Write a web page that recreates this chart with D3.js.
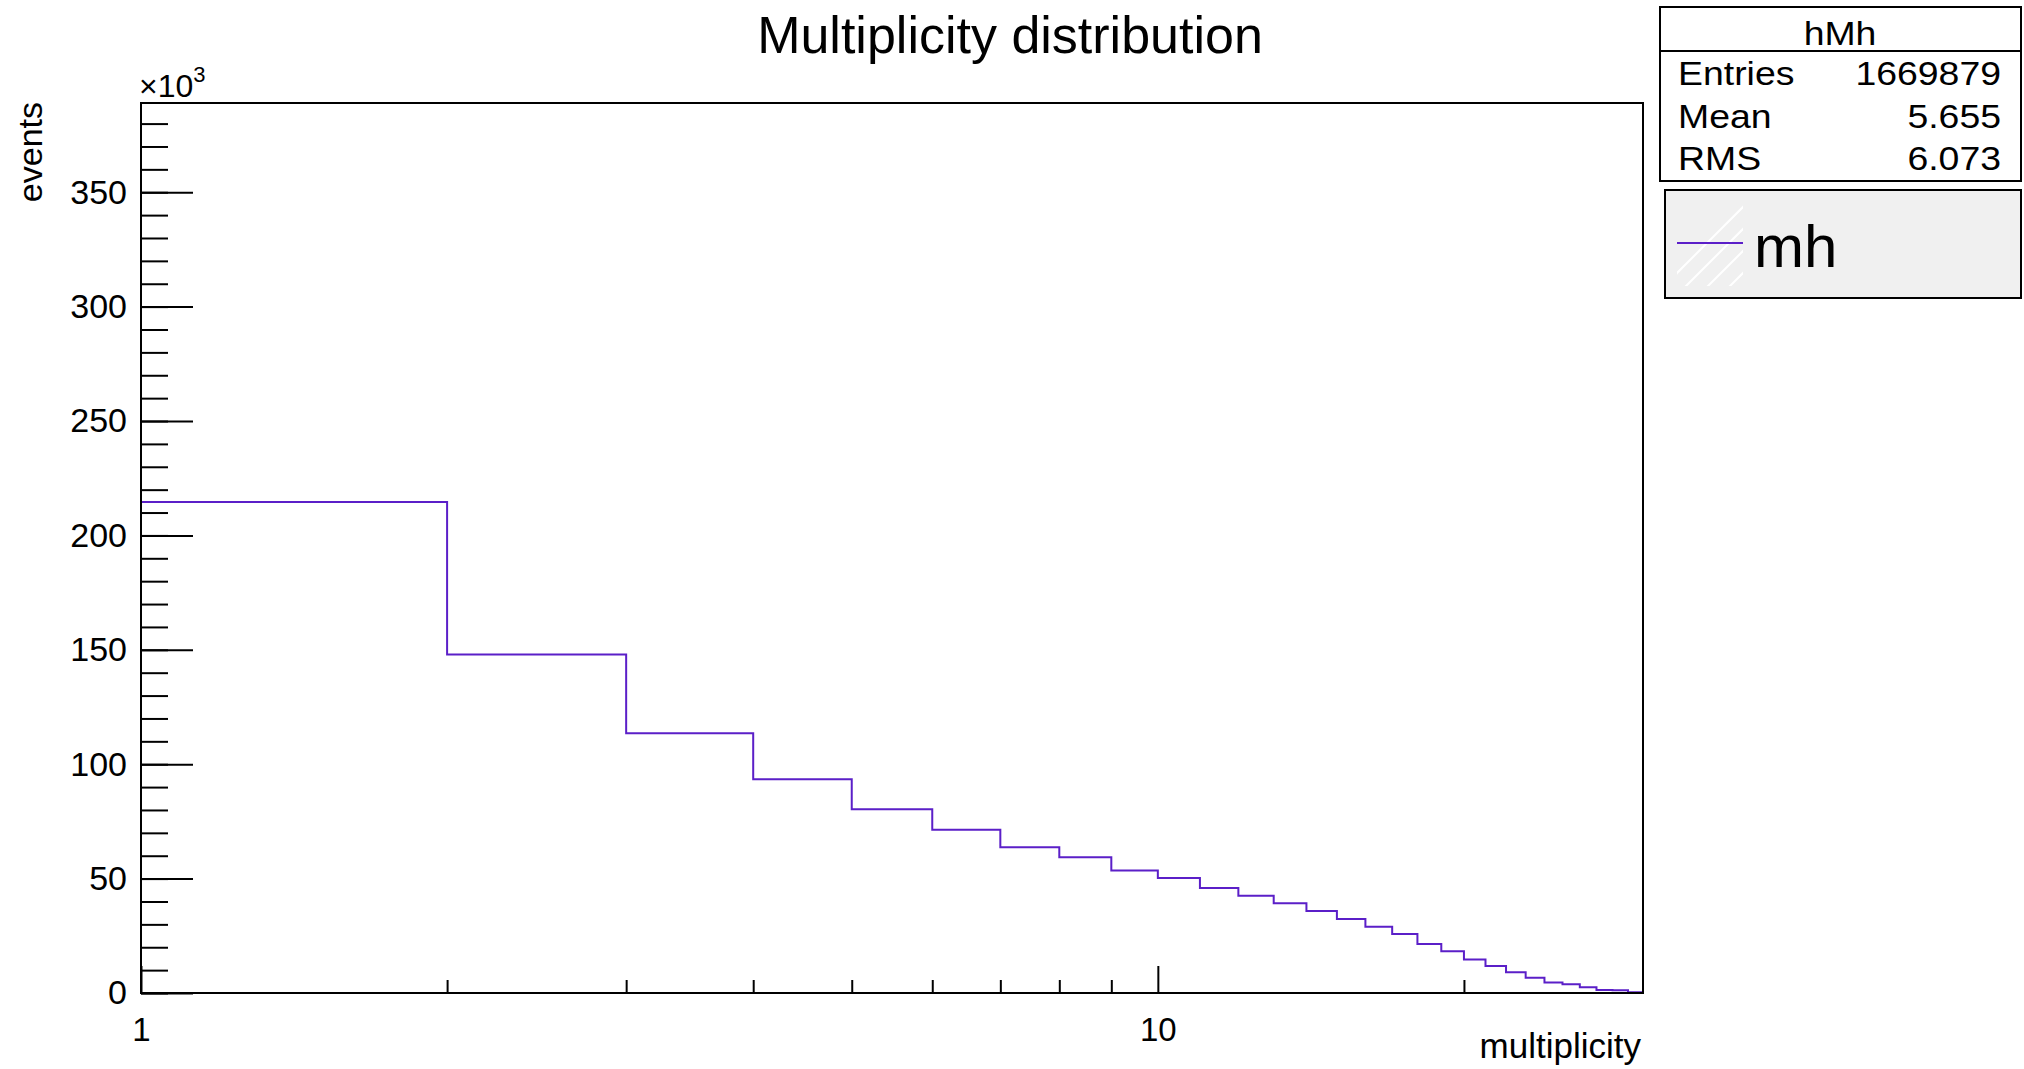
<!DOCTYPE html>
<html>
<head>
<meta charset="utf-8">
<script src="https://cdn.jsdelivr.net/npm/d3@7"></script>
<style>
  html, body { margin: 0; padding: 0; background: #fff; }
  svg text { font-family: "Liberation Sans", Arial, Helvetica, sans-serif; fill: #000; }
</style>
</head>
<body>
<svg id="chart" width="2024" height="1069"></svg>
<script>
// histogram hMh: bin low edges (multiplicity) and contents (x10^3 events)
const binLow   = [1, 2, 3, 4, 5, 6, 7, 8, 9, 10, 11, 12, 13, 14, 15, 16, 17, 18, 19, 20, 21, 22, 23, 24, 25, 26, 27, 28, 29];
const binValue = [214.6, 148.0, 113.5, 93.4, 80.3, 71.4, 63.7, 59.3, 53.5, 50.3, 45.9, 42.5, 39.2, 35.8, 32.3, 29.0, 25.8,
                  21.4, 18.2, 14.6, 11.8, 9.1, 6.7, 4.6, 3.8, 2.5, 1.3, 1.2, 0.3];
const xMax = 30;
const yMax = 389;

const xMajorTicks = [1, 10];
const xMinorTicks = [2, 3, 4, 5, 6, 7, 8, 9, 20];
const yMajorTicks = [0, 50, 100, 150, 200, 250, 300, 350];

const statLabels = ['Entries', 'Mean', 'RMS'];
const statValues = ['1669879', '5.655', '6.073'];

const LINE_COLOR = '#5b1fc8';
const FRAME = { left: 141, top: 103, right: 1643, bottom: 993 };
const STAT_STRETCH = 1.1;   // stats box font renders a bit wider

const svg = d3.select('#chart');

const x = d3.scaleLog().domain([1, xMax]).range([FRAME.left, FRAME.right]);
const y = d3.scaleLinear().domain([0, yMax]).range([FRAME.bottom, FRAME.top]);

// title
svg.append('text')
    .attr('x', 1010).attr('y', 53)
    .attr('text-anchor', 'middle')
    .style('font-size', '52px')
    .text('Multiplicity distribution');

// x axis: major + minor ticks pointing into the frame
const xMajor = svg.append('g')
    .attr('transform', `translate(0,${FRAME.bottom})`)
    .call(d3.axisBottom(x).tickValues(xMajorTicks).tickSizeInner(-27).tickSizeOuter(0)
        .tickPadding(25).tickFormat(d3.format('d')));
const xMinor = svg.append('g')
    .attr('transform', `translate(0,${FRAME.bottom})`)
    .call(d3.axisBottom(x).tickValues(xMinorTicks).tickSizeInner(-13).tickSizeOuter(0).tickFormat(''));

// y axis
const yMajor = svg.append('g')
    .attr('transform', `translate(${FRAME.left},0)`)
    .call(d3.axisLeft(y).tickValues(yMajorTicks).tickSizeInner(-52).tickSizeOuter(0).tickPadding(14));
const yMinor = svg.append('g')
    .attr('transform', `translate(${FRAME.left},0)`)
    .call(d3.axisLeft(y).tickValues(d3.range(0, yMax, 10)).tickSizeInner(-27).tickSizeOuter(0).tickFormat(''));

[xMajor, xMinor, yMajor, yMinor].forEach(g => {
    g.select('.domain').remove();
    g.selectAll('.tick line').attr('stroke', '#000').attr('stroke-width', 2);
});
xMajor.selectAll('.tick text').style('font-size', '33px');
yMajor.selectAll('.tick text').style('font-size', '34px');

// histogram outline
const steps = binLow.map((lo, i) => [lo, binValue[i]]);
steps.push([xMax, binValue[binValue.length - 1]]);

const stepLine = d3.line()
    .x(d => x(d[0]))
    .y(d => y(d[1]))
    .curve(d3.curveStepAfter);

svg.append('path')
    .datum(steps)
    .attr('d', stepLine)
    .attr('fill', 'none')
    .attr('stroke', LINE_COLOR)
    .attr('stroke-width', 2);

// frame
svg.append('rect')
    .attr('x', FRAME.left).attr('y', FRAME.top)
    .attr('width', FRAME.right - FRAME.left)
    .attr('height', FRAME.bottom - FRAME.top)
    .attr('fill', 'none')
    .attr('stroke', '#000')
    .attr('stroke-width', 2);

// axis titles
svg.append('text')
    .attr('x', FRAME.right - 2).attr('y', 1058)
    .attr('text-anchor', 'end')
    .style('font-size', '35px')
    .text('multiplicity');

svg.append('text')
    .attr('transform', 'translate(42,102) rotate(-90)')
    .attr('text-anchor', 'end')
    .style('font-size', '34px')
    .text('events');

// x10^3 exponent label
const expo = svg.append('text')
    .attr('x', 139).attr('y', 97)
    .style('font-size', '32px');
expo.append('tspan').text('\u00d710');
expo.append('tspan').attr('dy', -15).style('font-size', '22px').text('3');

// stats box
const stats = svg.append('g');
stats.append('rect')
    .attr('x', 1660).attr('y', 7).attr('width', 361).attr('height', 174)
    .attr('fill', '#fff').attr('stroke', '#000').attr('stroke-width', 2);
stats.append('line')
    .attr('x1', 1660).attr('x2', 2021).attr('y1', 51).attr('y2', 51)
    .attr('stroke', '#000').attr('stroke-width', 2);

function statText(tx, ty, anchor, str) {
    stats.append('g')
        .attr('transform', `translate(${tx},${ty}) scale(${STAT_STRETCH},1)`)
        .append('text')
        .attr('text-anchor', anchor)
        .style('font-size', '34px')
        .text(str);
}

statText(1840, 45, 'middle', 'hMh');
const statRowY = [85, 128, 170];
statLabels.forEach((d, i) => statText(1678, statRowY[i], 'start', d));
statValues.forEach((d, i) => statText(2001, statRowY[i], 'end', d));

// legend
const legend = svg.append('g');
legend.append('rect')
    .attr('x', 1665).attr('y', 190).attr('width', 356).attr('height', 108)
    .attr('fill', '#f0f0f0').attr('stroke', '#000').attr('stroke-width', 2);

// faint hatch behind the legend marker
legend.append('clipPath').attr('id', 'hatch-clip')
    .append('rect').attr('x', 1677).attr('y', 202).attr('width', 66).attr('height', 84);
const hatch = legend.append('g').attr('clip-path', 'url(#hatch-clip)');
d3.range(1660, 1780, 22).forEach(x0 => {
    hatch.append('line')
        .attr('x1', x0).attr('y1', 290).attr('x2', x0 + 90).attr('y2', 200)
        .attr('stroke', '#fff').attr('stroke-width', 2);
});

legend.append('line')
    .attr('x1', 1677).attr('x2', 1743).attr('y1', 243).attr('y2', 243)
    .attr('stroke', LINE_COLOR).attr('stroke-width', 2);
legend.append('text')
    .attr('x', 1754).attr('y', 267)
    .style('font-size', '60px')
    .text('mh');
</script>
</body>
</html>
